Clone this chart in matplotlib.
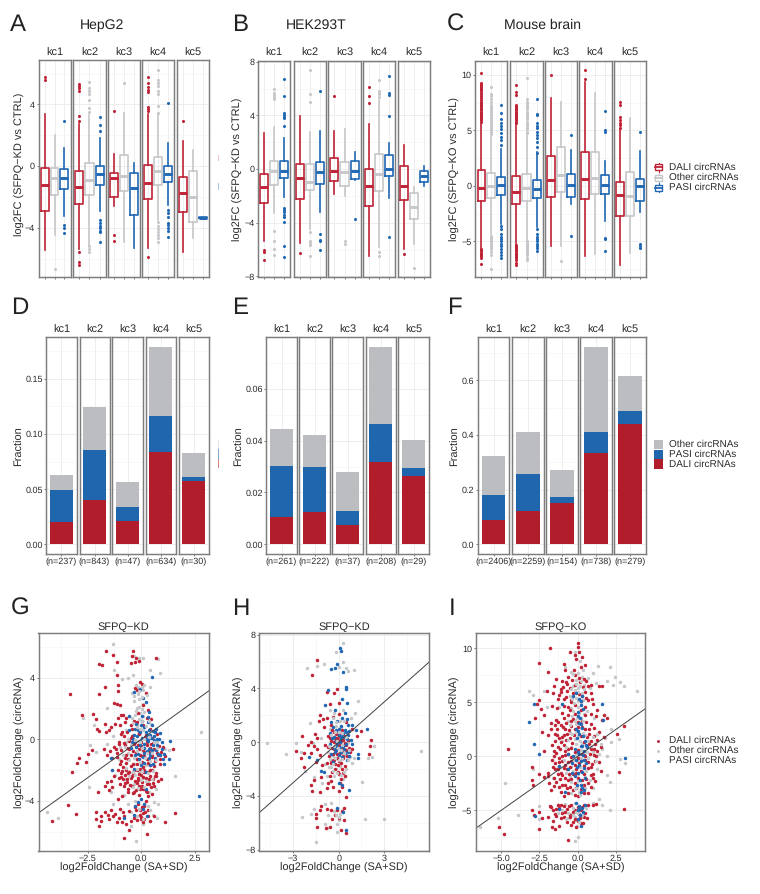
import matplotlib
matplotlib.use('Agg')
import matplotlib.pyplot as plt
from matplotlib.patches import Rectangle

plt.rcParams['font.family'] = ['Liberation Sans', 'DejaVu Sans']
plt.rcParams['text.hinting'] = 'no_hinting'
plt.rcParams['text.hinting_factor'] = 1
W, H = 760, 894

kc_names = ['kc1', 'kc2', 'kc3', 'kc4', 'kc5']
red = '#c02236'
gray = '#c6c7ca'
blue = '#2068b4'
bar_red = '#b11d2b'
bar_blue = '#1f66ad'
bar_gray = '#bcbdc1'
frame = '#7d7d7d'
txt = '#2b2b2b'

# box stats per kc: (low whisker, q1, median, q3, high whisker)
a_dali = [(-5.45, -2.9, -1.25, -0.1, 3.4), (-5.4, -2.45, -1.33, -0.35, 2.7), (-2.6, -2.0, -0.75, -0.43, 0.8), (-5.3, -2.17, -1.1, 0.05, 3.4), (-5.6, -3.0, -1.72, -0.7, 1.6)]
a_other = [(-4.45, -1.9, -0.8, -0.1, 2.0), (-5.15, -1.9, -0.9, 0.2, 3.3), (-4.95, -1.63, -0.65, 0.72, 3.45), (-3.5, -1.25, -0.33, 0.6, 3.3), (-4.67, -3.63, -2.0, -0.3, 1.05)]
a_pasi = [(-3.25, -1.5, -0.8, -0.2, 1.15), (-2.9, -1.25, -0.5, 0.0, 1.8), (-5.35, -3.2, -1.42, -0.47, 0.18), (-2.55, -1.05, -0.52, 0.02, 1.5), (-3.37, -3.37, -3.35, -3.33, -3.33)]
a_dali_out = [[5.8, 5.6], [5.3, 5.2, 5.05, 4.9, 3.25, 2.9, -5.55, -6.2, -6.45], [3.6, -4.45, -4.85], [5.8, 5.4, 5.1, 4.95, 4.8, 3.8, 3.7, 3.55, -5.9], [2.9]]
a_other_out = [[-6.65], [5.45, 5.05, 4.85, 4.7, 4.3, 3.75, 3.5, -5.2, -5.4, -5.55], [5.4], [6.25, 5.55, 5.4, 5.2, 4.9, 4.7, 3.9, 3.45, -3.6, -3.9, -4.1, -4.3, -4.5, -4.7, -4.9], []]
a_pasi_out = [[2.9, -3.8, -4.0, -4.35], [3.15, 2.65, 2.25, -3.5, -3.7, -3.9, -4.05, -4.2, -4.3, -4.9], [], [4.1, -2.85, -3.05, -3.3, -3.7, -3.85, -4.0, -4.2, -4.6], []]

b_dali = [(-5.4, -2.52, -1.3, -0.36, 2.67), (-5.53, -2.22, -0.66, 0.38, 3.96), (-1.85, -0.88, -0.14, 0.86, 2.85), (-6.52, -2.72, -1.25, 0.0, 3.34), (-5.97, -2.3, -1.25, 0.26, 1.78)]
b_other = [(-3.3, -1.2, -0.16, 0.63, 3.17), (-4.5, -1.55, -0.93, 0.4, 2.75), (-1.98, -1.28, -0.24, 0.56, 2.97), (-5.78, -1.65, -0.39, 1.16, 5.15), (-5.58, -3.71, -2.8, -1.75, -1.35)]
b_pasi = [(-2.1, -0.7, -0.11, 0.63, 2.3), (-3.17, -1.1, -0.23, 0.56, 2.85), (-0.8, -0.73, -0.14, 0.63, 1.28), (-2.12, -0.48, 0.0, 1.05, 1.97), (-1.28, -0.93, -0.48, -0.13, 0.2)]
b_dali_out = [[-6.0, -6.2, -6.77], [-6.27], [5.45], [6.1, 5.48, 4.95], [-6.37]]
b_other_out = [[6.0, 5.65, 5.5, 5.35, 5.2, -4.6, -5.4, -5.95, -6.4], [7.4, 5.6, 5.03, -4.66, -5.33, -5.5, -5.65, -6.45], [-5.33, -5.58], [6.65, 5.85, 5.7, 5.6, 5.4, -6.22, -6.47], [-7.4]]
b_pasi_out = [[6.75, 5.45, 4.16, 4.0, 3.9, 3.8, 3.2, -2.87, -3.05, -3.2, -3.4, -3.6, -3.96, -5.75, -6.57], [5.83, -4.83, -5.28, -5.4, -6.03], [-3.76], [6.97, 5.65, 5.53, 3.94, -5.05], []]

c_dali = [(-5.63, -1.36, -0.2, 1.48, 5.6), (-5.2, -1.63, -0.5, 0.93, 5.5), (-5.42, -1.0, 0.5, 2.7, 7.92), (-6.3, -1.17, 0.6, 3.07, 9.33), (-7.14, -2.74, -0.84, 0.4, 5.12)]
c_other = [(-4.37, -1.1, 0.0, 1.17, 4.6), (-4.9, -1.39, -0.18, 1.05, 4.6), (-5.4, -0.57, 0.96, 3.5, 7.56), (-6.14, -0.7, 0.75, 3.1, 8.37), (-6.08, -2.74, -0.9, 1.3, 6.14)]
c_pasi = [(-3.43, -0.8, 0.13, 0.85, 3.35), (-3.7, -1.1, -0.24, 0.55, 3.1), (-1.63, -0.96, 0.1, 1.05, 3.25), (-3.16, -0.75, 0.12, 0.96, 2.23), (-2.35, -1.32, 0.03, 0.63, 3.13)]
c_dali_out = [[10.2, 9.3, 9.2, 9.1, 9.0, 8.9, 8.8, 8.7, 8.6, 8.5, 8.3, 8.1, 7.9, 7.7, 7.6, 7.5, 7.4, 7.3, 7.2, 7.1, 7.0, 6.9, 6.8, 6.7, 6.6, 6.5, 6.4, 6.3, 6.2, 6.1, 6.0, 5.9, 5.8, -5.7, -5.8, -5.9, -6.0, -6.1, -6.2, -6.3, -6.5, -7.0],
              [9.1, 8.43, 8.2, 7.3, 7.2, 7.1, 7.0, 6.9, 6.8, 6.7, 6.6, 6.5, 6.4, 6.3, 6.2, 6.1, 6.0, 5.9, 5.8, 5.7, -5.3, -5.4, -5.5, -5.6, -5.7, -5.8, -5.9, -6.0, -6.1, -6.2, -6.3, -6.4, -6.5, -6.7, -6.9, -7.1],
              [10.0], [10.45, 9.64], [7.53, 7.3, 6.17, 5.95, 5.7, 5.5, 5.2]]
c_other_out = [[8.9, 8.3, 8.1, 7.8, 7.6, 7.3, 7.1, 7.0, 6.8, 6.7, 6.5, 6.4, 6.2, 6.1, 5.9, 5.8, 5.6, 5.5, 5.3, 5.2, 5.0, 4.9, 4.7, -4.5, -4.6, -4.7, -4.8, -4.9, -5.0, -5.1, -5.2, -5.3, -5.4, -5.5, -5.6, -5.7, -5.95, -6.2, -7.45],
               [9.7, 7.8, 7.6, 7.5, 7.3, 7.2, 7.0, 6.9, 6.7, 6.6, 6.4, 6.3, 6.1, 6.0, 5.8, 5.7, 5.5, 5.4, 5.2, 5.1, 4.9, 4.8, -5.0, -5.1, -5.2, -5.3, -5.4, -5.5, -5.6, -5.7, -5.8, -5.9, -6.0, -6.1, -6.2, -6.45, -6.7],
               [-6.72], [], []]
c_pasi_out = [[7.3, 6.55, 6.0, 5.7, 5.4, 5.1, 4.75, 4.4, 4.15, 3.7, -3.6, -3.85, -4.3, -4.6, -4.8, -5.0, -5.2, -5.45, -5.7, -5.95, -6.2, -6.45],
              [7.85, 6.5, 6.4, 5.7, 5.4, 5.2, 4.9, 4.6, 4.3, 4.0, 3.55, 3.0, -3.9, -4.35, -4.6, -4.8, -5.0, -5.2, -5.4, -5.6, -5.9],
              [4.6, -4.5], [6.78, 5.0, 4.9, -4.67, -4.82, -5.9], [4.82, -5.27, -5.4, -5.63]]

# stacked bars, read as cumulative tops
d_dali = [0.0202, 0.0398, 0.0214, 0.084, 0.0578]
d_pasi = [0.0488, 0.0855, 0.0337, 0.1166, 0.0608]
d_other = [0.063, 0.1247, 0.0566, 0.179, 0.0828]
d_n = ['(n=237)', '(n=843)', '(n=47)', '(n=634)', '(n=30)']
e_dali = [0.0106, 0.0123, 0.0074, 0.0318, 0.0264]
e_pasi = [0.0303, 0.0297, 0.0128, 0.0462, 0.0294]
e_other = [0.0444, 0.042, 0.028, 0.0762, 0.0404]
e_n = ['(n=261)', '(n=222)', '(n=37)', '(n=208)', '(n=29)']
f_dali = [0.088, 0.123, 0.15, 0.333, 0.439]
f_pasi = [0.182, 0.2585, 0.172, 0.411, 0.489]
f_other = [0.322, 0.412, 0.271, 0.724, 0.617]
f_n = ['(n=2406)', '(n=2259)', '(n=154)', '(n=738)', '(n=279)']

# scatter points
g_dali = [(-4.13,-5.3),(-3.43,-4.26),(-3.05,-4.85),(-3.3,2.92),(-2.75,1.6),(-2.25,1.67),(-3.23,-2.1),(-2.98,-1.56),(-2.9,-1.2),(-2.58,-1.5),(-2.48,-0.93),(-2.28,-0.7),(-1.98,2.94),(-1.95,4.9),(-1.83,4.85),(-1.62,5.76),(-1.32,5.5),(-1.12,5.0),(-1.15,4.18),(-1.7,3.38),(-1.08,3.53),(-1.1,3.14),(-1.29,2.38),(-1.14,2.27),(-1.01,2.23),(-0.38,5.75),(-0.44,5.4),(-0.24,5.3),(-0.09,5.1),(-0.3,5.0),(-0.48,4.95),(0.68,5.3),(-0.06,3.75),(0.02,3.6),(-0.3,3.3),(-0.2,3.2),(0.2,3.0),
(-2.1,1.3),(-2.05,0.7),(-1.98,0.55),(-1.7,1.0),(-1.65,0.5),(-1.5,0.6),(-1.4,0.8),(-1.2,1.0),(-1.1,1.4),(-0.95,1.55),(-0.85,1.6),(-0.7,1.4),(-1.75,-0.6),(-1.6,-1.0),(-1.45,-0.75),(-1.35,-1.2),(-1.25,-0.5),(-1.15,-0.9),(-1.05,-0.3),(-1.0,0.9),(-0.9,0.5),(-0.8,0.2),(-0.75,-0.4),(-0.7,-1.0),(-0.95,-1.4),(-0.85,-1.8),(-0.6,-1.3),(-0.55,-0.6),(-0.5,0.1),(-0.45,0.7),(-0.35,1.2),(-0.3,-0.2),(-0.25,-0.9),(-0.4,-1.6),(-0.2,-1.3),(-0.15,-0.4),(-0.1,0.4),(-0.05,-1.0),(0.0,-0.2),(0.05,-1.5),(0.1,-0.7),(0.15,-1.1),(0.2,0.3),(0.25,-0.4),(0.3,-1.3),(0.35,-0.8),(0.4,-1.7),(0.45,-0.3),(0.5,-1.0),(0.6,-0.6),(0.65,-1.4),(0.75,-0.9),(0.85,-1.3),(1.0,-0.5),(1.48,-0.65),(0.3,1.9),(0.25,1.4),(0.45,1.3),(0.1,2.2),(-0.15,1.7),
(-1.1,-2.0),(-1.05,-2.5),(-1.0,-2.9),(-0.95,-2.2),(-0.85,-2.6),(-0.8,-3.0),(-0.75,-2.3),(-0.7,-2.0),(-0.65,-2.8),(-0.6,-3.4),(-0.55,-2.1),(-0.5,-2.5),(-0.45,-3.0),(-0.4,-2.2),(-0.3,-2.7),(-0.25,-3.3),(-0.2,-2.0),(-0.15,-2.5),(-0.1,-3.0),(-0.05,-1.9),(0.0,-2.3),(0.05,-2.8),(0.1,-3.2),(0.15,-2.0),(0.2,-2.5),(0.25,-3.4),(0.3,-2.1),(0.35,-2.9),(0.4,-2.4),(0.45,-3.1),(0.5,-2.0),(0.55,-2.6),(0.6,-3.0),(0.7,-2.4),(0.8,-2.7),(-1.4,-2.7),(-1.5,-3.3),(-1.35,-3.1),(-1.25,-2.4),(-1.6,-2.8),(-1.7,-3.0),(-2.0,-3.4),
(-2.1,-4.75),(-2.1,-5.2),(-1.98,-5.6),(-1.85,-5.0),(-1.85,-5.3),(-1.7,-4.7),(-1.55,-4.9),(-1.5,-5.2),(-1.4,-4.6),(-1.3,-5.0),(-1.2,-4.85),(-1.15,-5.4),(-1.05,-5.1),(-1.0,-4.5),(-0.9,-5.35),(-0.85,-4.7),(-0.8,-5.0),(-0.7,-5.5),(-0.8,-6.4),(-0.5,-5.3),(-0.55,-5.9),(-0.35,-5.1),(-0.25,-4.6),(-0.15,-4.2),(-0.05,-4.9),(0.0,-5.2),(0.05,-4.4),(0.1,-4.8),(0.15,-5.2),(0.2,-4.0),(0.25,-6.15),(0.3,-4.6),(0.6,-5.0),(1.1,-5.4),(1.55,-4.8),(-1.1,-3.9),(-0.9,-3.7),(-0.4,-3.5),(-0.1,-3.6),(0.3,-3.7)]
g_dali_core = [(-0.75,1.1),(-0.5,0.9),(-0.2,1.1),(0.1,0.95),(0.4,0.7),(-0.95,0.35),(-0.65,0.45),(-0.42,0.2),(-0.12,0.35),(0.17,0.12),(0.48,0.1),(0.72,0.35),(-1.05,-0.15),(-0.82,-0.25),(-0.58,-0.1),(-0.32,-0.3),(-0.02,-0.42),(0.28,-0.15),(0.55,-0.25),(0.82,-0.42),(-1.18,-0.62),(-0.92,-0.72),(-0.65,-0.55),(-0.38,-0.78),(-0.12,-0.62),(0.12,-0.85),(0.4,-0.55),(0.68,-0.72),(0.92,-0.82),(-1.12,-1.15),(-0.78,-1.2),(-0.5,-1.05),(-0.22,-1.25),(0.04,-1.1),(0.26,-1.3),(0.52,-1.15),(0.78,-1.05),(1.12,-1.1),(-0.98,-1.6),(-0.72,-1.52),(-0.48,-1.72),(-0.18,-1.6),(0.08,-1.78),(0.32,-1.52),(0.6,-1.75),(0.88,-1.58),(-0.88,-2.05),(-0.62,-2.2),(-0.36,-2.02),(-0.1,-2.22),(0.15,-2.12),(0.42,-1.98),(0.68,-2.18),(-0.92,-2.42),(-0.68,-2.55),(-0.42,-2.38),(-0.14,-2.62),(0.1,-2.42),(0.38,-2.58),(0.62,-2.38),(0.9,-2.55),(-0.78,-2.85),(-0.52,-2.95),(-0.22,-2.82),(0.02,-3.02),(0.28,-2.9),(0.55,-2.85),(-0.62,-3.25),(-0.32,-3.4),(-0.05,-3.25),(0.22,-3.35),(0.48,-3.55),(-0.3,-4.4),(-0.05,-4.6),(0.12,-4.35),(0.32,-5.0),(0.18,-4.75),(0.0,-5.05),(-0.2,-5.25),(0.42,-5.3),(0.1,-5.35),(-0.55,-4.65)]
g_other = [(-4.4,-4.7),(-3.85,-5.1),(-2.7,1.4),(-2.45,-3.1),(2.77,0.5),(1.55,-2.4),(-1.3,6.2),(-1.25,4.5),(-1.6,2.0),(-2.2,0.9),(-2.4,-0.4),(-2.1,-0.8),(-0.35,5.4),(-0.1,5.3),(0.1,5.3),(0.8,5.2),(0.4,4.5),(0.85,4.3),(-0.9,3.9),(-0.6,4.0),(-0.4,4.2),(-0.15,3.4),(-0.45,3.0),(0.1,3.2),(0.4,3.4),(-0.35,2.5),(-0.1,2.6),(0.1,2.3),(-0.2,2.0),(-0.05,1.7),(-0.45,1.4),(0.1,1.5),(-0.7,0.6),(-1.3,0.2),(-1.6,-0.3),(-0.7,-0.2),(-0.4,0.3),(-0.2,0.9),(0.1,0.6),(-1.05,-1.3),(-0.6,-0.9),(-0.3,-1.6),(0.0,-0.6),(0.2,-1.7),(0.5,-0.6),(0.75,-0.2),(1.1,-0.65),(1.3,-0.7),(-1.2,-2.3),(-0.7,-2.6),(-0.35,-2.9),(0.1,-2.5),(0.35,-3.4),(0.7,-3.2),(-1.4,-3.4),(-0.8,-3.6),(-0.3,-4.0),(0.6,-4.1),(0.8,-4.2),(-1.3,-4.2),(-0.5,-4.7),(0.55,-4.9),(0.75,-5.1),(0.3,-4.3),(-0.25,-6.6),(-0.5,-5.6),(-0.2,-5.0),(0.1,-5.5),(0.4,-5.3),(-1.0,-0.5),(0.3,0.2),(0.45,1.0),(0.05,0.1),(-0.15,-0.1),(-0.1,-2.1),(0.3,-2.8)]
g_other_core = [(-0.25,1.85),(-0.1,2.1),(0.05,1.95),(0.15,1.75),(-0.3,1.55),(-0.12,1.35),(0.05,1.2),(-0.4,1.05),(-0.22,0.8),(-0.05,0.7),(0.22,0.85),(0.35,1.2),(-0.35,2.8),(-0.15,2.95),(0.05,2.75),(0.25,2.9),(0.05,3.4),(-0.1,3.15),(-0.25,3.55),(0.15,3.5),(-0.6,0.0),(-0.3,-0.05),(-0.08,-0.2),(0.12,0.05),(0.38,0.15),(0.6,-0.15),(-0.75,-0.5),(-0.48,-0.4),(-0.2,-0.75),(0.03,-0.55),(0.25,-0.9),(0.52,-0.9),(0.75,-0.55),(-0.85,-1.0),(-0.55,-1.35),(-0.32,-1.2),(-0.05,-1.45),(0.18,-1.2),(0.42,-1.4),(0.7,-1.35),(-0.7,-1.85),(-0.4,-2.1),(-0.2,-1.9),(0.02,-2.05),(0.3,-2.2),(0.55,-2.05),(-0.55,-2.4),(-0.28,-2.3),(0.0,-2.65),(0.2,-2.7),(0.5,-2.6),(-0.4,-3.1),(-0.15,-3.15),(0.12,-3.1),(-0.6,-4.2),(-0.1,-4.5),(0.4,-4.6),(0.1,-5.15)]
g_pasi = [(2.68,-3.7),(-0.05,3.25),(0.5,4.05),(-0.35,3.05),(0.1,2.7),(0.2,2.4),(0.35,1.8),(-0.55,1.5),(-0.25,1.0),(0.05,1.2),(0.3,1.1),(0.5,0.9),(0.7,0.7),(0.85,0.4),(-0.55,0.6),(-0.35,0.3),(-0.15,0.6),(0.0,0.9),(0.2,0.5),(0.4,0.3),(0.6,0.2),(0.75,0.0),(0.95,-0.2),(1.35,-0.1),(-0.45,-0.2),(-0.25,-0.5),(-0.05,-0.1),(0.15,-0.3),(0.35,-0.6),(0.55,-0.4),(0.7,-0.7),(0.85,-1.0),(1.0,-1.25),(1.3,-1.3),(1.05,-1.6),(-0.3,-1.0),(-0.1,-1.3),(0.15,-0.9),(0.35,-1.2),(0.55,-1.6),(-0.35,-1.9),(0.0,-1.7),(0.2,-2.1),(-1.4,-1.2),(-1.35,-2.0),(0.2,-3.2),(0.0,-3.9),(-0.3,-4.3),(0.15,-4.2),(-0.35,-4.9),(-0.8,-5.1),(0.25,-5.0),(0.45,-0.9),(0.3,0.0)]
g_pasi_core = [(-0.3,0.65),(-0.05,0.45),(0.15,0.8),(0.35,0.6),(0.55,0.55),(-0.4,0.05),(-0.18,0.2),(0.02,0.1),(0.25,0.3),(0.45,0.1),(0.65,0.45),(0.82,0.05),(-0.5,-0.55),(-0.28,-0.1),(-0.08,-0.35),(0.12,-0.55),(0.32,-0.1),(0.5,-0.7),(0.72,-0.35),(0.95,-0.6),(-0.15,-0.95),(0.08,-1.15),(0.28,-0.75),(0.42,-1.05),(0.62,-1.2),(0.78,-0.95),(1.05,-0.95),(0.15,-1.55),(0.4,-1.7),(0.22,0.05),(0.6,-0.05),(0.05,1.5),(0.3,1.45),(-0.15,-4.05),(0.1,-4.55)]

h_dali = [(-1.45,6.1),(-1.75,5.0),(-0.1,3.95),(-0.3,3.7),(-0.75,3.75),(0.0,2.9),(-0.55,2.85),(-1.2,2.0),(-1.3,1.55),(-1.05,1.7),(-0.75,1.8),(-0.4,1.9),(0.05,2.1),(-0.5,1.3),(-1.0,1.1),(-1.55,0.6),(-1.4,0.35),(-2.4,0.45),(-2.05,-0.2),(-1.85,0.05),(-1.65,-0.3),(-2.8,-0.65),(-2.3,-0.8),(-1.8,-0.8),(-1.4,-0.5),(-1.2,-0.95),(-2.5,-1.2),(-2.3,-1.8),(-1.5,-1.5),(-1.1,-1.7),(-0.9,-0.2),(-0.7,0.5),(-0.5,0.1),(-0.3,0.8),(-0.1,0.3),(0.1,0.7),(0.3,0.2),(0.5,0.5),(-0.3,-0.5),(-0.1,-0.9),(0.1,-0.3),(0.25,-0.7),(0.45,-0.2),(0.65,-0.4),(0.9,-0.5),(-0.5,-1.3),(-0.25,-1.6),(0.0,-1.4),(0.3,-1.2),(-0.05,-2.2),(0.3,-2.3),(-0.5,-2.9),(-0.7,-3.0),(-1.15,-2.6),(-1.6,-2.8),(-1.85,-3.15),(-1.75,-3.65),(-1.2,-3.7),(-0.75,-3.4),(-0.35,-3.3),(0.0,-3.6),(0.2,-3.3),(0.45,-4.1),(0.1,-3.05),(2.15,0.15),(2.05,-0.3),(2.0,-0.9),(1.45,0.85),(1.2,0.5),(0.85,1.0),(0.45,1.5),
(-1.15,-4.75),(-1.2,-5.0),(-1.5,-5.3),(-0.8,-4.95),(-0.5,-5.0),(-0.1,-5.0),(0.2,-5.1),(0.35,-4.9),(-0.25,-5.4),(0.0,-5.6),(-0.45,-5.7),(0.35,-5.8),(-1.5,-5.6),(-1.45,-6.3),(-0.85,-6.35),(-0.6,-6.3),(0.15,-6.5),(0.45,-6.75)]
h_dali_core = [(-0.45,0.95),(-0.15,0.65),(0.05,0.5),(0.25,0.95),(-0.6,0.3),(-0.32,0.05),(-0.08,-0.1),(0.18,0.1),(0.42,-0.05),(0.62,0.15),(-0.72,-0.35),(-0.45,-0.45),(-0.18,-0.55),(0.02,-0.25),(0.22,-0.45),(0.48,-0.6),(0.72,-0.75),(-0.62,-1.05),(-0.38,-0.85),(-0.12,-1.15),(0.08,-0.8),(0.3,-1.0),(0.55,-1.05),(-0.75,-1.55),(-0.5,-1.55),(-0.28,-1.35),(-0.05,-1.7),(0.18,-1.55),(0.4,-1.75),(-0.45,-2.2),(-0.22,-2.0),(0.02,-2.35),(0.22,-1.95),(-0.6,-2.5),(0.12,-2.75),(0.4,-2.5),(-0.02,0.15),(0.1,-0.05),(-0.25,0.35),(0.3,0.55)]
h_other = [(-4.7,-0.05),(-3.45,-0.85),(-2.8,-0.05),(-2.4,-5.55),(-1.9,1.45),(-2.25,-2.15),(-1.5,-7.4),(0.3,7.35),(-0.15,6.7),(0.3,6.0),(-2.1,5.5),(-1.4,5.65),(-1.0,5.85),(0.05,5.6),(0.5,5.5),(0.6,5.3),(1.0,5.35),(5.4,-0.65),(3.0,-5.7),(1.75,-5.7),(1.55,-2.95),(2.35,-0.3),(2.2,-1.1),(1.9,-1.15),(1.3,3.1),(1.05,2.2),(0.8,1.8),(0.3,2.4),(-0.3,2.2),(-0.6,2.4),(-1.15,0.3),(-1.7,-0.05),(-2.45,-0.7),(-0.6,1.0),(-0.2,1.2),(0.15,1.1),(-0.4,0.2),(0.0,0.4),(0.35,-0.2),(0.6,0.0),(-0.7,-0.7),(-0.35,-1.0),(0.05,-0.8),(0.45,-0.95),(0.75,-1.1),(1.0,-1.2),(-0.9,-1.6),(-0.5,-1.8),(-0.15,-2.0),(0.1,-1.75),(0.5,-2.0),(-0.8,-2.5),(-0.3,-2.5),(0.3,-2.7),(-1.1,-3.0),(-1.6,-2.55),(-0.9,-4.6),(-0.5,-4.5),(-1.8,-5.3),(-1.6,-4.95),(-0.7,-5.4),(-0.3,-5.1),(0.1,-5.3),(0.0,-5.8),(-0.1,-6.1),(-0.9,-6.05),(-0.75,-6.4),(-0.1,-6.7)]
h_other_core = [(-0.5,0.55),(-0.25,0.8),(0.02,0.75),(0.22,0.7),(-0.2,1.5),(0.1,1.55),(0.35,1.6),(-0.4,1.8),(-0.62,-0.25),(-0.3,-0.25),(-0.05,-0.4),(0.15,-0.6),(0.35,-0.8),(0.7,-0.55),(-0.55,-1.25),(-0.25,-1.2),(0.0,-1.3),(0.2,-1.25),(0.6,-1.3),(0.9,-1.55),(-0.65,-1.85),(-0.35,-1.65),(-0.1,-2.25),(0.12,-2.4),(0.35,-2.2),(-0.35,-2.15),(0.2,-0.2),(-0.1,0.1),(0.5,0.4),(-0.15,-5.4),(0.05,-5.55)]
h_pasi = [(0.1,7.0),(0.12,6.75),(-0.1,5.8),(-0.5,5.45),(-0.25,5.55),(0.3,5.25),(0.45,4.1),(0.45,3.95),(-0.7,3.85),(0.2,3.25),(-0.9,2.8),(-0.25,2.4),(0.55,2.9),(0.4,2.2),(0.2,1.8),(0.55,1.7),(-0.1,1.6),(0.6,1.3),(0.9,1.25),(-0.5,1.5),(0.15,1.2),(0.4,0.9),(0.7,0.85),(1.85,1.0),(1.15,0.95),(-0.6,0.7),(-0.3,0.4),(-0.05,0.85),(0.25,0.45),(0.55,0.25),(0.8,0.2),(-0.55,-0.1),(-0.2,-0.25),(0.1,0.05),(0.35,-0.5),(0.6,-0.7),(0.85,-0.15),(-0.5,-0.85),(-0.15,-0.6),(0.2,-1.1),(0.55,-1.3),(1.3,-0.85),(1.25,-1.15),(-1.4,-1.35),(-1.95,-1.1),(-1.15,-2.1),(-0.95,-2.2),(-0.35,-1.45),(0.0,-3.05),(0.25,-3.15),(0.65,-3.55),(-0.1,-4.85),(0.3,-5.2),(0.45,-6.55)]
h_pasi_core = [(-0.35,1.15),(-0.15,0.95),(0.05,1.0),(0.3,0.7),(0.5,0.75),(-0.42,0.35),(-0.18,0.1),(0.0,0.55),(0.18,0.35),(0.4,0.4),(0.62,0.55),(-0.3,-0.4),(-0.08,-0.05),(0.1,-0.35),(0.3,-0.25),(0.48,-0.15),(-0.25,-0.75),(0.0,-0.95),(0.18,-0.7),(0.4,-0.8),(0.65,-1.05)]

i_dali = [(-4.55,0.65),(-5.15,-6.55),(-4.8,-7.15),(3.0,2.85),(3.05,-4.85),(2.7,-1.45),(2.55,2.1),(-0.5,9.65),(-0.2,9.35),(-0.1,9.0),(0.0,10.5),(0.05,10.15),(0.1,9.7),(0.3,9.2),(-1.8,10.0),(-2.5,8.65),(-1.9,7.8),(-0.9,8.6),(-0.85,8.0),(-0.25,8.0),(0.2,8.3),(0.5,8.5),(-1.4,7.2),(-1.0,7.0),(-0.6,7.4),(-0.2,7.5),(0.1,7.3),(0.45,7.2),(-1.55,6.5),(-1.05,6.25),(-0.7,6.7),(0.9,6.6),(1.4,6.5),(1.6,6.5),(-2.0,6.1),(-1.6,5.9),(-1.2,5.7),(-0.9,5.3),(-0.4,5.0),(0.3,5.6),(0.7,5.2),(1.0,4.9),(-2.5,5.2),(-2.65,4.85),(-2.4,4.4),(-1.7,4.7),(-0.5,4.3),(0.2,4.3),(-2.2,3.8),(-2.75,3.55),(-1.4,3.4),(-0.9,3.6),(-0.3,3.5),(0.3,3.3),(1.2,3.7),(1.7,3.8),(1.6,3.4),(1.95,3.6),(-1.5,2.9),(-1.1,2.9),(-0.8,2.5),(-0.4,2.8),(0.05,2.7),(0.5,2.5),(1.1,2.6),(1.4,2.3),(-2.3,2.3),(-1.9,2.0),(-1.5,2.1),(-1.2,1.7),(-0.9,2.0),(-0.5,1.7),(0.6,1.8),(0.9,1.4),(1.3,1.5),(1.7,1.8),(-1.7,1.1),(-1.3,0.9),(-0.9,1.1),(-0.6,0.7),(0.6,0.9),(1.05,0.7),(1.5,0.9),(-2.2,0.5),(-1.4,0.3),(-1.0,0.0),(-0.6,0.2),(-0.2,0.4),(0.3,0.2),(0.8,0.2),(1.2,0.0),(-1.7,-0.3),(-1.2,-0.5),(-0.8,-0.8),(-0.4,-0.4),(0.1,-0.6),(0.5,-0.3),(0.95,-0.7),(1.4,-0.5),(-3.0,-1.0),(-2.5,-1.6),(-1.9,-1.8),(-1.5,-1.2),(-1.1,-1.5),(-0.7,-1.2),(-0.3,-1.6),(0.2,-1.3),(0.7,-1.1),(1.0,-1.6),(1.5,-1.3),(-3.0,-2.2),(-2.9,-2.65),(-1.85,-2.5),(-1.4,-2.4),(-1.0,-2.6),(-0.6,-2.2),(-0.2,-2.5),(0.3,-2.2),(0.7,-2.5),(1.15,-2.3),(-1.75,-3.1),(-1.1,-3.3),(-0.7,-2.9),(-0.3,-3.1),(0.25,-3.0),(0.7,-3.4),(-0.9,-3.7),(0.0,-3.7),
(-3.0,-5.0),(-2.85,-5.4),(-2.5,-5.1),(-2.5,-6.7),(-1.75,-4.7),(-1.6,-5.0),(-1.5,-5.3),(-1.3,-4.5),(-1.2,-4.8),(-1.0,-5.2),(-0.9,-4.6),(-0.7,-4.9),(-0.5,-5.4),(-0.4,-4.5),(-0.2,-5.0),(0.1,-5.3),(0.3,-4.7),(0.5,-5.2),(0.7,-4.5),(1.0,-4.5),(1.2,-4.4),(0.6,-5.7),(-1.1,-5.7),(-1.6,-6.0),(-1.2,-6.4),(-1.7,-6.5),(-0.7,-6.1),(-0.4,-6.3),(0.0,-6.0),(-0.1,-6.55),(0.35,-6.2),(-0.6,-7.75),(-1.45,-6.7),(-2.3,-5.7)]
i_dali_core = [(-0.75,6.9),(-0.35,7.05),(0.15,6.85),(0.55,6.95),(-0.95,6.45),(-0.5,6.35),(-0.15,6.6),(0.35,6.4),(0.65,6.55),(-1.1,5.95),(-0.7,6.05),(-0.3,5.9),(0.1,5.8),(0.5,6.0),(0.85,5.85),(-1.3,5.35),(-0.75,5.5),(-0.45,5.25),(0.55,5.4),(0.95,5.35),(-1.35,4.5),(-0.9,4.7),(-0.6,4.55),(-0.2,4.8),(0.5,4.6),(1.3,4.3),(-1.0,4.05),(-0.6,3.85),(-0.15,3.95),(0.5,3.8),(0.85,3.9),(-1.75,3.1),(-1.25,3.15),(-0.75,3.1),(-0.45,3.25),(0.0,3.2),(0.55,3.15),(0.9,3.05),(-1.75,2.5),(-1.35,2.55),(-0.95,2.7),(-0.55,2.45),(-0.15,2.5),(0.3,2.75),(0.75,2.55),(-1.35,1.95),(-1.0,1.8),(-0.7,2.1),(-0.25,1.95),(0.2,1.9),(0.75,2.1),(1.05,1.9),(-1.5,1.45),(-1.1,1.3),(-0.75,1.5),(-0.35,1.25),(0.4,1.35),(0.75,1.15),(1.15,1.2),(-1.55,0.55),(-1.15,0.7),(-0.8,0.55),(-0.4,0.75),(0.05,0.6),(0.4,0.1),(0.85,0.65),(1.3,0.5),(-1.55,0.05),(-1.2,-0.1),(-0.8,0.15),(-0.45,-0.05),(0.0,-0.1),(0.5,0.0),(1.1,0.15),(-1.45,-0.6),(-1.0,-0.4),(-0.6,-0.55),(-0.2,-0.75),(0.25,-0.3),(0.7,-0.5),(1.15,-0.45),(-1.6,-1.0),(-1.25,-1.15),(-0.9,-1.05),(-0.5,-0.95),(-0.1,-1.2),(0.4,-0.9),(0.9,-1.0),(-1.95,-1.55),(-1.3,-1.6),(-1.0,-1.75),(-0.55,-1.6),(-0.1,-1.5),(0.45,-1.6),(0.85,-1.75),(-2.2,-1.9),(-1.55,-2.0),(-1.15,-2.05),(-0.8,-1.95),(-0.45,-2.1),(0.0,-2.0),(0.55,-2.1),(1.0,-1.95),(-1.55,-2.7),(-1.2,-2.85),(-0.85,-2.6),(-0.5,-2.8),(-0.1,-2.9),(0.4,-2.65),(0.9,-2.8),(-0.6,-3.4),(-0.2,-3.55),(0.4,-3.35),(-1.8,-4.6),(-1.4,-4.9),(-1.1,-4.5),(-0.8,-5.1),(-0.55,-4.55),(-0.3,-5.15),(0.0,-4.7),(0.2,-5.0),(0.4,-4.5),(-0.9,-5.6),(-0.5,-5.6),(-0.2,-5.8),(0.15,-5.7),(0.45,-5.6),(-1.4,-5.5),(-1.9,-5.6),(-0.3,-6.1),(0.2,-6.2)]
i_other = [(-6.4,-6.55),(-5.2,-5.7),(-4.75,-2.45),(-3.9,-5.45),(3.9,6.05),(3.1,-0.65),(2.75,-0.2),(2.1,8.3),(1.35,8.4),(2.45,7.35),(2.8,6.9),(3.05,6.5),(2.3,6.6),(1.9,7.0),(-3.15,6.05),(-2.9,5.7),(-2.2,6.05),(-0.8,8.25),(-0.15,9.7),(0.15,8.8),(0.35,8.0),(1.0,7.7),(-0.4,7.8),(-0.1,7.1),(0.3,7.4),(0.7,7.3),(-0.3,6.5),(0.0,6.3),(0.4,6.6),(0.8,6.3),(1.2,6.8),(-0.5,5.6),(-0.1,5.4),(0.35,5.2),(-2.0,4.6),(-1.2,4.6),(-0.4,4.5),(0.0,4.6),(0.4,3.9),(1.1,3.6),(2.2,2.5),(1.8,1.7),(2.7,1.6),(2.2,1.35),(-0.6,3.3),(-0.1,3.0),(0.2,2.6),(-1.0,1.4),(-0.5,2.2),(-0.2,1.6),(0.3,1.2),(0.7,1.4),(1.0,0.4),(1.6,0.7),(1.95,0.0),(-0.4,0.9),(-0.1,0.1),(0.2,0.6),(0.6,0.4),(-2.9,-1.2),(-1.3,-1.0),(-0.4,-1.0),(-0.05,-0.4),(0.4,-0.8),(1.3,-1.2),(1.9,-1.7),(2.1,-2.4),(-1.6,-2.0),(-0.5,-1.9),(0.0,-1.6),(0.5,-1.9),(1.0,-2.9),(-0.4,-3.4),(0.1,-3.3),(0.5,-2.9),(1.4,-3.9),(1.0,-4.3),(1.6,-4.5),(2.1,-4.95),(-2.5,-4.6),(-0.8,-4.4),(-0.2,-4.3),(-0.5,-5.3),(-0.2,-5.6),(-0.2,-5.9),(0.1,-4.9),(0.35,-5.5),(-2.55,-5.8),(-0.2,-7.85),(0.05,-7.45),(-0.05,-6.4),(-0.65,-5.7)]
i_other_core = [(-0.3,7.6),(0.05,7.7),(0.2,7.0),(-0.1,6.7),(0.15,6.5),(0.4,6.2),(-0.4,6.2),(-0.15,6.15),(0.05,5.95),(0.3,5.85),(-0.35,5.3),(0.0,5.1),(0.25,4.95),(-0.25,4.95),(0.6,4.2),(-0.3,4.2),(0.1,4.05),(-0.05,3.6),(0.2,3.55),(-0.35,3.7),(0.35,3.3),(-0.2,3.25),(0.1,3.05),(-0.5,2.95),(-0.1,2.3),(0.35,2.2),(-0.35,2.1),(0.05,1.85),(0.5,2.0),(-0.6,1.5),(-0.1,1.2),(0.15,1.45),(1.3,2.05),(1.0,1.8),(1.5,1.2),(-0.75,0.85),(0.05,0.35),(0.85,0.95),(1.4,0.25),(1.2,-0.4),(-0.9,-0.3),(-0.25,-0.35),(0.25,-0.1),(0.7,-0.1),(-0.75,-1.5),(-0.3,-1.35),(0.15,-1.0),(0.55,-1.35),(-0.4,-2.35),(0.0,-2.3),(0.25,-2.6),(0.8,-2.2),(-0.2,-3.0),(0.15,-3.6),(-0.05,-2.8),(-0.3,-4.8),(0.0,-5.2),(0.3,-5.4),(-0.6,-5.2),(-0.75,-5.8),(-0.3,-5.45),(0.1,-6.05),(-0.1,-5.1),(0.55,-4.8),(-1.0,-5.0),(-1.3,-5.2)]
i_pasi = [(-2.85,4.85),(-3.15,3.15),(-2.85,1.2),(-2.5,0.2),(1.6,4.85),(1.65,3.35),(3.1,-0.15),(-0.3,5.6),(0.3,5.6),(-1.0,4.9),(0.25,4.75),(0.05,3.7),(0.1,3.1),(0.3,2.6),(0.1,2.1),(0.5,1.4),(0.2,1.0),(-0.05,1.7),(-0.2,0.7),(0.45,0.5),(0.6,0.85),(-0.6,0.25),(-0.3,0.05),(0.1,0.2),(-0.35,-0.6),(0.1,-0.8),(0.4,-0.3),(-1.2,-0.9),(-0.6,-1.2),(-0.05,-1.0),(0.3,-1.4),(-0.15,-1.8),(0.15,-2.2),(0.5,-2.0),(0.3,-2.9),(0.45,-3.1),(-0.8,-3.3),(0.2,-3.3),(-0.1,-4.3),(0.1,-4.6),(0.3,-4.8),(0.5,-4.5),(0.0,-5.0),(-1.2,-4.9),(-2.75,-5.55),(0.15,-5.4),(0.2,-6.4)]
i_pasi_core = [(0.1,5.3),(-0.1,5.85),(0.2,5.1),(0.35,4.35),(0.0,4.1),(0.15,3.6),(0.2,3.0),(-0.1,2.5),(0.05,2.35),(0.35,1.85),(0.55,1.1),(0.3,0.95),(0.0,0.4),(0.35,0.1),(-0.1,-0.35),(0.2,-0.4),(0.55,-0.6),(-0.35,-1.5),(0.45,-1.1),(0.05,-1.5),(-0.05,-2.6),(0.25,-2.6),(0.1,-4.9),(0.35,-5.1),(0.05,-5.8)]


def px_axes(x0, x1, y0, y1):
    return fig.add_axes([x0 / W, 1 - y1 / H, (x1 - x0) / W, (y1 - y0) / H])


def style(ax):
    for s in ax.spines.values():
        s.set_color(frame)
        s.set_linewidth(1.05)
    ax.set_axisbelow(True)
    ax.grid(True, which='major', color='#ebebeb', lw=0.6)
    ax.grid(True, which='minor', color='#f4f4f4', lw=0.4)
    ax.tick_params(which='major', length=1.6, width=0.5, color='#444444', labelsize=6.7, labelcolor=txt, pad=1)
    ax.tick_params(which='minor', length=0)


def ylabel_at(ax, text, xpx, ypx, box, size=8.2):
    # the rotated label sits with its right edge on the coordinate, hence the +5
    x0, x1, y0, y1 = box
    ax.set_ylabel(text, fontsize=size, color=txt)
    ax.yaxis.set_label_coords((xpx + 5 - x0) / (x1 - x0), (y1 - ypx) / (y1 - y0))


def box_row(xs, top, bottom, ylim, yticks, yminor, ylabels, ylab, labx, laby, series, size=8.2):
    for i, (x0, x1) in enumerate(xs):
        ax = px_axes(x0, x1, top, bottom)
        style(ax)
        for pos, (stats, outs, col) in enumerate(series, start=1):
            lo, q1, med, q3, hi = stats[i]
            st = [dict(whislo=lo, q1=q1, med=med, q3=q3, whishi=hi, fliers=outs[i])]
            ax.bxp(st, positions=[pos], widths=0.8, showcaps=False, manage_ticks=False,
                   boxprops=dict(color=col, lw=1.2),
                   whiskerprops=dict(color=col, lw=1.2),
                   medianprops=dict(color=col, lw=2.1, solid_capstyle='butt'),
                   flierprops=dict(marker='o', ms=2.2, mfc=col, mec='none', mew=0))
        ax.set_xlim(0.36, 3.64)
        ax.set_ylim(*ylim)
        ax.set_xticks([1, 2, 3])
        ax.set_xticklabels([])
        ax.set_yticks(yticks)
        ax.set_yticks(yminor, minor=True)
        if i == 0:
            ax.set_yticklabels(ylabels)
            ylabel_at(ax, ylab, labx, laby, (x0, x1, top, bottom), size)
        else:
            ax.set_yticklabels([])
            ax.tick_params(axis='y', which='major', length=0)
        ax.set_title(kc_names[i], fontsize=7.8, color=txt, pad=3)


def bar_row(xs, dali, pasi, other, ns, yticks, yminor, ylabels, labx):
    top, bottom = 336.7, 554.3
    ymax = max(other) * 1.05
    ymin = -max(other) * 0.05
    for i, (x0, x1) in enumerate(xs):
        ax = px_axes(x0, x1, top, bottom)
        style(ax)
        ax.bar(1, other[i], 0.9, color=bar_gray)
        ax.bar(1, pasi[i], 0.9, color=bar_blue)
        ax.bar(1, dali[i], 0.9, color=bar_red)
        ax.set_xlim(0.4, 1.6)
        ax.set_ylim(ymin, ymax)
        ax.set_xticks([1])
        ax.set_xticklabels([ns[i]], fontsize=6.7)
        ax.set_yticks(yticks)
        ax.set_yticks(yminor, minor=True)
        if i == 0:
            ax.set_yticklabels(ylabels)
            ylabel_at(ax, 'Fraction', labx, 445.7, (x0, x1, top, bottom))
        else:
            ax.set_yticklabels([])
            ax.tick_params(axis='y', which='major', length=0)
        ax.set_title(kc_names[i], fontsize=7.8, color=txt, pad=3)


def scatter_panel(box, layers, xlim, ylim, xt, xl, xm, yt, yl, ym, title, ylabx):
    x0, x1, y0, y1 = box
    ax = px_axes(x0, x1, y0, y1)
    style(ax)
    for data, col in layers:
        ax.scatter([p[0] for p in data], [p[1] for p in data], s=6.3, color=col, linewidths=0)
    ax.plot([-20, 20], [-20, 20], color='#404040', lw=0.7)
    ax.set_xlim(*xlim)
    ax.set_ylim(*ylim)
    ax.set_xticks(xt)
    ax.set_xticklabels(xl)
    ax.set_xticks(xm, minor=True)
    ax.set_yticks(yt)
    ax.set_yticklabels(yl)
    ax.set_yticks(ym, minor=True)
    ax.set_xlabel('log2FoldChange (SA+SD)', fontsize=8.2, color=txt, labelpad=0)
    ylabel_at(ax, 'log2FoldChange (circRNA)', ylabx, 742.5, box)
    ax.set_title(title, fontsize=8.2, color=txt, pad=2.5)


fig = plt.figure(figsize=(W / 100, H / 100), dpi=100)

over = fig.add_axes([0, 0, 1, 1], zorder=5)
over.set_xlim(0, W)
over.set_ylim(H, 0)
over.axis('off')

a_xs = [(38.5, 70.5), (73, 106), (108, 140), (142, 174), (177, 209)]
b_xs = [(258, 290), (293.5, 326), (328, 361), (362.5, 395), (397.5, 430)]
c_xs = [(475.3, 507), (510, 543), (544.5, 577), (579, 611.5), (614, 646)]
box_row(a_xs, 60, 277, (-7.2, 6.88), [-4, 0, 4], [-6, -2, 2, 6], ['\u22124', '0', '4'],
        'log2FC (SFPQ\u2212KD vs CTRL)', 20.5, 164,
        [(a_dali, a_dali_out, red), (a_other, a_other_out, gray), (a_pasi, a_pasi_out, blue)], size=7.6)
box_row(b_xs, 60.5, 277, (-8.05, 8.1), [-8, -4, 0, 4, 8], [-6, -2, 2, 6], ['\u22128', '\u22124', '0', '4', '8'],
        'log2FC (SFPQ\u2212KD vs CTRL)', 238, 169,
        [(b_dali, b_dali_out, red), (b_other, b_other_out, gray), (b_pasi, b_pasi_out, blue)])
box_row(c_xs, 60.5, 277, (-8.2, 11.3), [-5, 0, 5, 10], [-7.5, -2.5, 2.5, 7.5], ['\u22125', '0', '5', '10'],
        'log2FC (SFPQ\u2212KO vs CTRL)', 455.5, 169,
        [(c_dali, c_dali_out, red), (c_other, c_other_out, gray), (c_pasi, c_pasi_out, blue)])

d_xs = [(46.3, 76.5), (79.5, 109.5), (112.5, 142.5), (145.5, 176), (178.5, 209)]
e_xs = [(266.3, 296.7), (299.3, 329.7), (332.3, 362.7), (365.7, 396), (398.3, 429)]
f_xs = [(477.7, 509.3), (512.3, 543.7), (546.3, 577.7), (580.3, 611.7), (614.3, 645.7)]
bar_row(d_xs, d_dali, d_pasi, d_other, d_n, [0, 0.05, 0.10, 0.15], [0.025, 0.075, 0.125, 0.175],
        ['0.00', '0.05', '0.10', '0.15'], 19.5)
bar_row(e_xs, e_dali, e_pasi, e_other, e_n, [0, 0.02, 0.04, 0.06], [0.01, 0.03, 0.05, 0.07],
        ['0.00', '0.02', '0.04', '0.06'], 239)
bar_row(f_xs, f_dali, f_pasi, f_other, f_n, [0, 0.2, 0.4, 0.6], [0.1, 0.3, 0.5, 0.7],
        ['0.0', '0.2', '0.4', '0.6'], 455.5)

# part of the grey goes over the red, the source overplots the groups in mixed order
scatter_panel((38.5, 209, 633.3, 851), [(g_other, gray), (g_dali + g_dali_core, red), (g_pasi + g_pasi_core, blue), (g_other_core, gray)],
              (-4.78, 3.15), (-7.25, 6.88), [-2.5, 0, 2.5], ['\u22122.5', '0.0', '2.5'], [-3.75, -1.25, 1.25],
              [-4, 0, 4], ['\u22124', '0', '4'], [-6, -2, 2, 6], 'SFPQ\u2212KD', 20.5)
scatter_panel((259, 429.3, 633.3, 851), [(h_other, gray), (h_dali + h_dali_core, red), (h_pasi + h_pasi_core, blue), (h_other_core, gray)],
              (-5.25, 5.97), (-8.08, 8.1), [-3, 0, 3], ['\u22123', '0', '3'], [-4.5, -1.5, 1.5, 4.5],
              [-8, -4, 0, 4, 8], ['\u22128', '\u22124', '0', '4', '8'], [-6, -2, 2, 6], 'SFPQ\u2212KD', 239)
scatter_panel((475.7, 645.3, 633.3, 851), [(i_other, gray), (i_dali + i_dali_core, red), (i_other_core, gray), (i_pasi + i_pasi_core, blue)],
              (-6.65, 4.42), (-8.75, 11.4), [-5, -2.5, 0, 2.5], ['\u22125.0', '\u22122.5', '0.0', '2.5'], [-3.75, -1.25, 1.25, 3.75],
              [-5, 0, 5, 10], ['\u22125', '0', '5', '10'], [-7.5, -2.5, 2.5, 7.5], 'SFPQ\u2212KO', 455.5)

# panel letters and cell line headings
letters = [('A', 10, 25), ('B', 232, 25), ('C', 447, 25), ('D', 11, 308), ('E', 232, 308), ('F', 447, 308),
           ('G', 11, 609), ('H', 232, 609), ('I', 449, 609)]
for s, x, y in letters:
    over.text(x, y, s, fontsize=17.3, color='#222222', ha='left', va='center')
for s, x in [('HepG2', 101.6), ('HEK293T', 316), ('Mouse brain', 542)]:
    over.text(x, 25, s, fontsize=10.3, color='#222222', ha='center', va='center')

# legend C, mini boxplot keys
for y, s, col in [(167.3, 'DALI circRNAs', red), (177.7, 'Other circRNAs', gray), (187.7, 'PASI circRNAs', blue)]:
    over.plot([658.5, 658.5], [y - 4.5, y + 4.5], color=col, lw=0.8)
    over.add_patch(Rectangle((655, y - 3), 7, 6, fc='white', ec=col, lw=1.0, zorder=3))
    over.plot([655, 662], [y, y], color=col, lw=1.3, zorder=4)
    over.text(669, y, s, fontsize=7.5, color=txt, va='center')

# legend F, colour squares
for y, s, col in [(444.3, 'Other circRNAs', bar_gray), (454.3, 'PASI circRNAs', bar_blue), (464, 'DALI circRNAs', bar_red)]:
    over.add_patch(Rectangle((654.3, y - 4.8), 9, 9.6, fc=col, ec='none'))
    over.text(669, y, s, fontsize=7.5, color=txt, va='center')

# legend I, dots
for y, s, col in [(740.7, 'DALI circRNAs', red), (750.7, 'Other circRNAs', gray), (760.7, 'PASI circRNAs', blue)]:
    over.scatter([658.3], [y], s=4.5, color=col, linewidths=0)
    over.text(669, y, s, fontsize=7.5, color=txt, va='center')

# leftover slivers in the source at x=218
for x, y0, y1, col in [(218, 155, 161, '#f2c4c8'), (218, 183, 190, '#a9c6e4'),
                       (218, 440, 449, '#e4e4e6'), (218, 449, 459, '#7fa9d3'), (218, 459, 468, '#d98089')]:
    over.add_patch(Rectangle((x - 0.5, y0), 1, y1 - y0, fc=col, ec='none'))

fig.savefig('out.png', dpi=100)
